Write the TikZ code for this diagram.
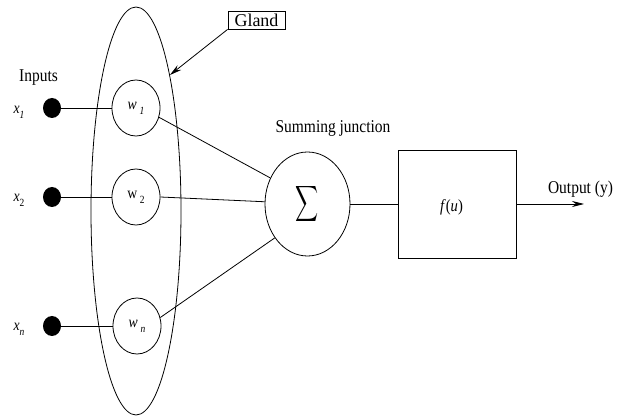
\documentclass[tikz,border=0pt]{standalone}
\usepackage{fontspec}
\setmainfont[FakeStretch=0.86]{Liberation Serif}
\newfontfamily\plainserif{Liberation Serif}
\usetikzlibrary{shapes.geometric,arrows.meta}

% lowered subscript used in the input and weight labels
\newcommand\lowsub[1]{\raisebox{-0.3em}{\fontsize{11}{11}\selectfont #1}}

\begin{document}
\begin{tikzpicture}[x=1pt,y=-1pt,line width=0.8pt,
  lbl/.style={font=\fontsize{18}{18}\selectfont,inner sep=0},
  inlbl/.style={font=\fontsize{16}{16}\selectfont,inner sep=0},
  weight/.style={draw,ellipse,minimum width=48pt,minimum height=56pt,inner sep=0,
    font=\fontsize{16}{16}\selectfont},
  dot/.style={fill=black,ellipse,minimum width=18pt,minimum height=20pt,inner sep=0},
  tip/.style={-{Stealth[length=12pt,width=6pt,inset=4pt]}}]
\useasboundingbox (0,0) rectangle (625,417);

% gland enclosing the weights
\node[draw,ellipse,minimum width=90pt,minimum height=408pt,inner sep=0] (gland) at (136,211) {};
\node[draw,minimum width=57pt,minimum height=18pt,inner sep=0,
  font=\plainserif\fontsize{18}{18}\selectfont] (glandlbl) at (256.5,20) {Gland};
\draw[tip] (glandlbl.south west) -- (gland.76);

% inputs
\node[lbl,anchor=base] (inputs) at (38.5,82) {Inputs};
\node[inlbl] (x1lbl) at (19,112) {\textit{x}\lowsub{\textit{1}}};
\node[inlbl] (x2lbl) at (19,200) {\textit{x}\lowsub{2}};
\node[inlbl] (xnlbl) at (19,329) {\textit{x}\lowsub{\textit{n}}};
\node[dot] (x1) at (52,108) {};
\node[dot] (x2) at (52,197) {};
\node[dot] (xn) at (52,326) {};

% weights
\node[weight] (w1) at (136,108) {\textit{w}\,\lowsub{\textit{1}}};
\node[weight] (w2) at (136,197) {w\,\lowsub{2}};
\node[weight] (wn) at (137,326) {\textit{w}\,\lowsub{\textit{n}}};

\draw (x1) -- (w1);
\draw (x2) -- (w2);
\draw (xn) -- (wn);

% summing junction
\node[lbl,anchor=base] (sumlbl) at (333,133) {Summing junction};
\node[draw,ellipse,minimum width=85pt,minimum height=104pt,inner sep=0] (sum) at (307.5,204)
  {\scalebox{1.6}[2.5]{$\displaystyle\sum$}};

\draw (w1.-22) -- (sum.145);
\draw (w2.east) -- (sum.177);
\draw (wn.20) -- (sum.226);

% activation
\node[draw,minimum width=118pt,minimum height=108pt,inner sep=0] (act) at (457,204) {};
\node[font=\fontsize{17}{17}\selectfont,inner sep=0] (fu) at (451.5,207) {\textit{f}(\textit{u})};
\draw (sum.east) -- (act.west);

% output
\coordinate (out) at (584,204);
\draw[tip] (act.east) -- (out);
\node[lbl,anchor=base] (outlbl) at (580.5,194) {Output (y)};
\end{tikzpicture}
\end{document}
